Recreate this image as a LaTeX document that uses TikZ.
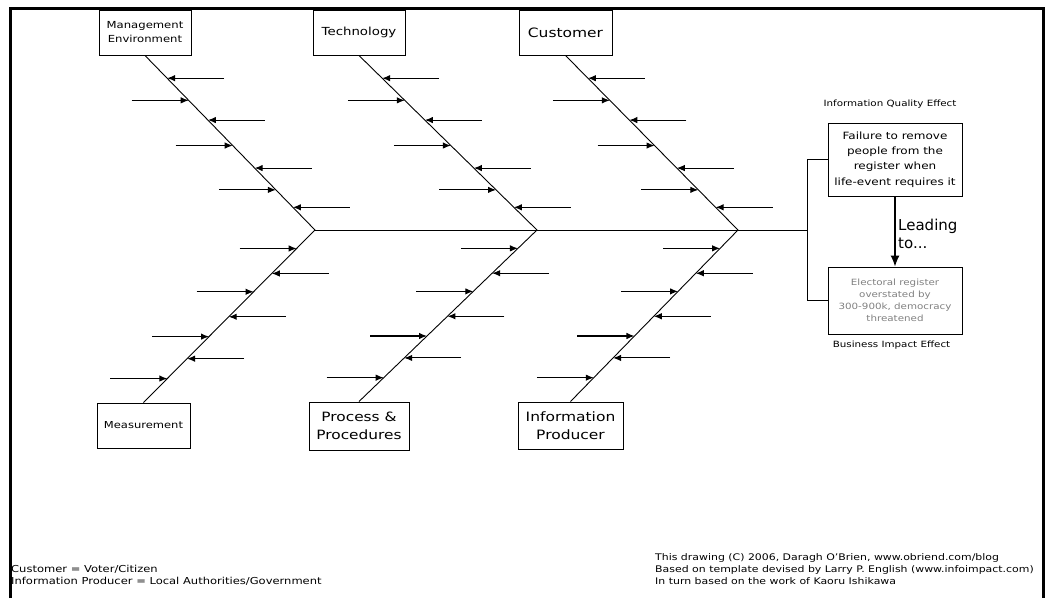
\documentclass[tikz,border=0pt]{standalone}
\usepackage{fontspec}
\setmainfont{DejaVu Sans}[FakeStretch=1.2]
\newfontfamily\leadfont{DejaVu Sans}
\usetikzlibrary{arrows.meta,calc}
\tikzset{
  catbox/.style={draw=black,line width=1pt,inner sep=0pt,align=center},
  bone/.style={line width=0.9pt},
  cause/.style={line width=1.1pt,-{Latex[length=8pt,width=6.5pt]}},
  txt/.style={inner sep=0pt,align=center},
  frame/.style={line width=3pt}
}
\begin{document}
\begin{tikzpicture}[x=1pt,y=-1pt]
\useasboundingbox (0,0) rectangle (1046,598);
% frame
\draw[frame] (10,598) -- (10,8) -- (1043,8) -- (1043,598);
% category boxes
\node[catbox,minimum width=92pt,minimum height=45pt,font=\fontsize{9.7}{14}\selectfont] (mgmt) at (145,32.5) {Management\\Environment};
\node[catbox,minimum width=92pt,minimum height=45pt,font=\fontsize{11.1}{14}\selectfont] (tech) at (359,32.5) {Technology};
\node[catbox,minimum width=93pt,minimum height=45pt,font=\fontsize{12.9}{15}\selectfont] (cust) at (565.5,32.5) {Customer};
\node[catbox,minimum width=93pt,minimum height=45pt,font=\fontsize{9.6}{14}\selectfont] (meas) at (143.5,425.5) {Measurement};
\node[catbox,minimum width=100pt,minimum height=48pt,font=\fontsize{12.8}{18}\selectfont] (proc) at (359,426) {Process \&\\Procedures};
\node[catbox,minimum width=105pt,minimum height=47pt,font=\fontsize{12.9}{18}\selectfont] (prod) at (570.5,425.5) {Information\\Producer};
% junctions
\coordinate (j1) at (315,230);
\coordinate (j2) at (537,230);
\coordinate (j3) at (738,230);
\coordinate (jend) at (807,230);
% spine
\draw[line width=1pt] (j1) -- (jend);
% bones
\draw[bone] (mgmt.south) -- (j1) -- (meas.north);
\draw[bone] (tech.south) -- (j2) -- (proc.north);
\draw[bone] (cust.south) -- (j3) -- (prod.north);
% cause arrows
\foreach \a/\b in {mgmt.south/j1, tech.south/j2, cust.south/j3} {
  \foreach \t/\d in {0.13/1,0.257/-1,0.37/1,0.516/-1,0.645/1,0.77/-1,0.87/1} {
    \draw[cause] ($(\a)!\t!(\b) + (\d*57,0)$) -- ($(\a)!\t!(\b)$);
  }
}
\foreach \a/\b in {j1/meas.north, j2/proc.north, j3/prod.north} {
  \foreach \t/\d in {0.107/-1,0.252/1,0.358/-1,0.503/1,0.618/-1,0.746/1,0.861/-1} {
    \draw[cause] ($(\a)!\t!(\b) + (\d*57,0)$) -- ($(\a)!\t!(\b)$);
  }
}
% effect side
\node[catbox,minimum width=134pt,minimum height=73pt,font=\fontsize{10}{15.3}\selectfont] (eff) at (895,159.5) {Failure to remove\\people from the\\register when\\life-event requires it};
\node[catbox,minimum width=134pt,minimum height=67pt,font=\fontsize{8.6}{12}\selectfont,text=gray] (biz) at (895,300.5) {Electoral register\\overstated by\\300-900k, democracy\\threatened};
\draw[line width=1pt] (eff.west) -| (jend);
\draw[line width=1pt] (jend) |- (biz.west);
\draw[line width=1.1pt,-{Latex[length=11pt,width=9pt]}] (eff.south) -- (biz.north);
\node[txt,font=\fontsize{8.6}{10}\selectfont] (iqlabel) at (890,104) {Information Quality Effect};
\node[txt,font=\fontsize{8.6}{10}\selectfont] (bilabel) at (891.5,345) {Business Impact Effect};
\node[txt,anchor=west,align=left,font=\leadfont\fontsize{15}{18}\selectfont] (lead) at (898,234) {Leading\\to...};
% notes
\node[txt,anchor=west,align=left,font=\fontsize{9.6}{12}\selectfont] (legend) at (11,575) {Customer = Voter/Citizen\\Information Producer = Local Authorities/Government};
\node[txt,anchor=west,align=left,font=\fontsize{9.1}{12}\selectfont] (credits) at (655,569) {This drawing (C) 2006, Daragh O'Brien, www.obriend.com/blog\\Based on template devised by Larry P. English (www.infoimpact.com)\\In turn based on the work of Kaoru Ishikawa};
\end{tikzpicture}
\end{document}
